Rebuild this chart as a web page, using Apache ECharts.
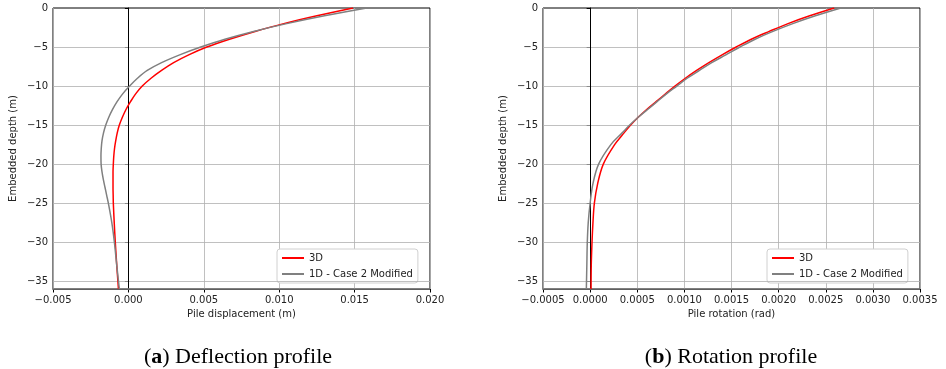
<!DOCTYPE html>
<html>
<head>
<meta charset="utf-8">
<script src="https://cdn.jsdelivr.net/npm/echarts@6/dist/echarts.min.js"></script>
<style>html,body{margin:0;padding:0;background:#fff}#c{width:946px;height:369px}</style>
</head>
<body>
<div id="c"></div>
<script>
// ---- data (depth in m, displacement in m, rotation in rad) ----
const depthA = [0,-1,-2,-3,-4,-5,-6,-7,-8,-9,-10,-11,-12,-13,-14,-15,-16,-17,-18,-19,-20,-21,-22,-23,-24,-25,-27.5,-30,-33,-36];
const disp3D = [0.0149,0.0125,0.0103,0.0084,0.0067,0.0052,0.0040,0.0030,0.0022,0.0015,0.00092,0.00048,0.00014,-0.00016,-0.0004,-0.0006,-0.00074,-0.00084,-0.00092,-0.00097,-0.001,-0.00102,-0.00102,-0.00102,-0.00101,-0.0010,-0.00094,-0.00087,-0.00077,-0.00066];
const disp1D = [0.0158,0.0130,0.0105,0.0083,0.0064,0.0048,0.0034,0.0022,0.00125,0.0006,0.00008,-0.00038,-0.00075,-0.00105,-0.0013,-0.0015,-0.00165,-0.00175,-0.0018,-0.00182,-0.00181,-0.00175,-0.00166,-0.00155,-0.00144,-0.00133,-0.0011,-0.00093,-0.00077,-0.0006];
const depthB = [0,-1,-2,-3,-4,-5,-6,-7,-8,-9,-10,-11,-12,-13,-14,-15,-16,-17.5,-20,-22.5,-25,-27.5,-30,-33,-36];
const rot3D = [0.00259,0.00233,0.00210,0.00190,0.00171,0.00155,0.00140,0.00126,0.00113,0.00101,0.00090,0.00080,0.00070,0.00060,0.00051,0.00043,0.00036,0.00026,0.00014,0.00008,0.000045,0.00003,0.00002,0.000012,0.00001];
const rot1D = [0.00266,0.00239,0.00215,0.00194,0.00175,0.00159,0.00144,0.00129,0.00116,0.00103,0.00092,0.00081,0.00071,0.00061,0.00051,0.00042,0.00034,0.00022,0.00009,0.00003,0.0,-0.00002,-0.00003,-0.000035,-0.00004];
const yTicks = [-35,-30,-25,-20,-15,-10,-5,0];
const seriesNames = ['3D','1D - Case 2 Modified'];
const captionA = ['a','Deflection profile'];
const captionB = ['b','Rotation profile'];

const pairs = (xs, ys) => xs.map((x,i)=>[x, ys[i]]);
const minus = s => s.replace('-', '\u2212');
const FONT = 'DejaVu Sans';

function yAxis(idx){
  return {
    type:'value', gridIndex: idx, min:-36, max:0,
    axisLine:{show:true, lineStyle:{color:'#000', width:1}},
    axisTick:{show:true, customValues: yTicks, length:3.5, lineStyle:{color:'#000'}},
    axisLabel:{customValues: yTicks, margin:5, color:'#222', fontFamily:FONT, fontSize:10, formatter:v=>minus(String(v))},
    splitLine:{show:false},
    name:'Embedded depth (m)', nameLocation:'middle', nameGap:35,
    nameTextStyle:{color:'#222', fontFamily:FONT, fontSize:10}
  };
}
function xAxis(idx, min, max, interval, dec, name){
  return {
    type:'value', gridIndex: idx, min, max, interval,
    axisLine:{show:true, onZero:false, lineStyle:{color:'#000', width:1}},
    axisTick:{show:true, length:3.5, lineStyle:{color:'#000'}},
    axisLabel:{margin:6, color:'#222', fontFamily:FONT, fontSize:10, formatter:v=>minus(v.toFixed(dec))},
    splitLine:{show:true, lineStyle:{color:'#b0b0b0', width:0.8}},
    name, nameLocation:'middle', nameGap:20,
    nameTextStyle:{color:'#222', fontFamily:FONT, fontSize:10}
  };
}
function guideSeries(idx){
  return {
    type:'line', xAxisIndex:idx, yAxisIndex:idx, data:[], silent:true,
    markLine:{silent:true, symbol:'none', label:{show:false}, animation:false,
      data:[
        ...yTicks.slice(0,-1).map(v=>({yAxis:v, lineStyle:{color:'#b0b0b0', width:0.8, type:'solid'}})),
        {xAxis:0, lineStyle:{color:'#000', width:1, type:'solid'}},
        {yAxis:-36, lineStyle:{color:'#808080', width:1.5, type:'solid'}}
      ]}
  };
}
function curve(idx, name, data, color){
  return {type:'line', name, xAxisIndex:idx, yAxisIndex:idx, data, showSymbol:false, symbol:'none',
    smooth:0.35, lineStyle:{color, width:1.5}, itemStyle:{color}, z:5};
}
function legend(left){
  return {
    data:seriesNames, orient:'vertical', left, top:249, icon:'rect', itemWidth:22, itemHeight:2,
    itemGap:6, padding:[4,5,4,5], borderColor:'#d0d0d0', borderWidth:1, borderRadius:3,
    backgroundColor:'#fff', textStyle:{fontFamily:FONT, fontSize:10, color:'#222'}, selectedMode:false
  };
}
function caption(cx, c){
  return {text:'{p|(}{b|'+c[0]+'}{p|) '+c[1]+'}', left:cx, top:341, textAlign:'center',
    textStyle:{fontWeight:'normal', rich:{
      p:{fontFamily:'Liberation Serif', fontSize:22, fontWeight:'normal', color:'#000'},
      b:{fontFamily:'Liberation Serif', fontSize:22, fontWeight:'bold', color:'#000'}}}};
}

const chart = echarts.init(document.getElementById('c'), null, {renderer:'canvas'});
chart.setOption({
  animation:false,
  backgroundColor:'#fff',
  title:[caption(233, captionA), caption(726, captionB)],
  grid:[
    {left:53, right:516, top:8, bottom:80, show:true, borderColor:'#000', borderWidth:1},
    {left:543, right:26, top:8, bottom:80, show:true, borderColor:'#000', borderWidth:1}
  ],
  xAxis:[xAxis(0,-0.005,0.020,0.005,3,'Pile displacement (m)'), xAxis(1,-0.0005,0.0035,0.0005,4,'Pile rotation (rad)')],
  yAxis:[yAxis(0), yAxis(1)],
  legend:[legend(277), legend(767)],
  series:[
    guideSeries(0), guideSeries(1),
    curve(0, seriesNames[0], pairs(disp3D, depthA), '#ff0000'),
    curve(0, seriesNames[1], pairs(disp1D, depthA), '#808080'),
    curve(1, seriesNames[0], pairs(rot3D, depthB), '#ff0000'),
    curve(1, seriesNames[1], pairs(rot1D, depthB), '#808080')
  ]
});
</script>
</body>
</html>
